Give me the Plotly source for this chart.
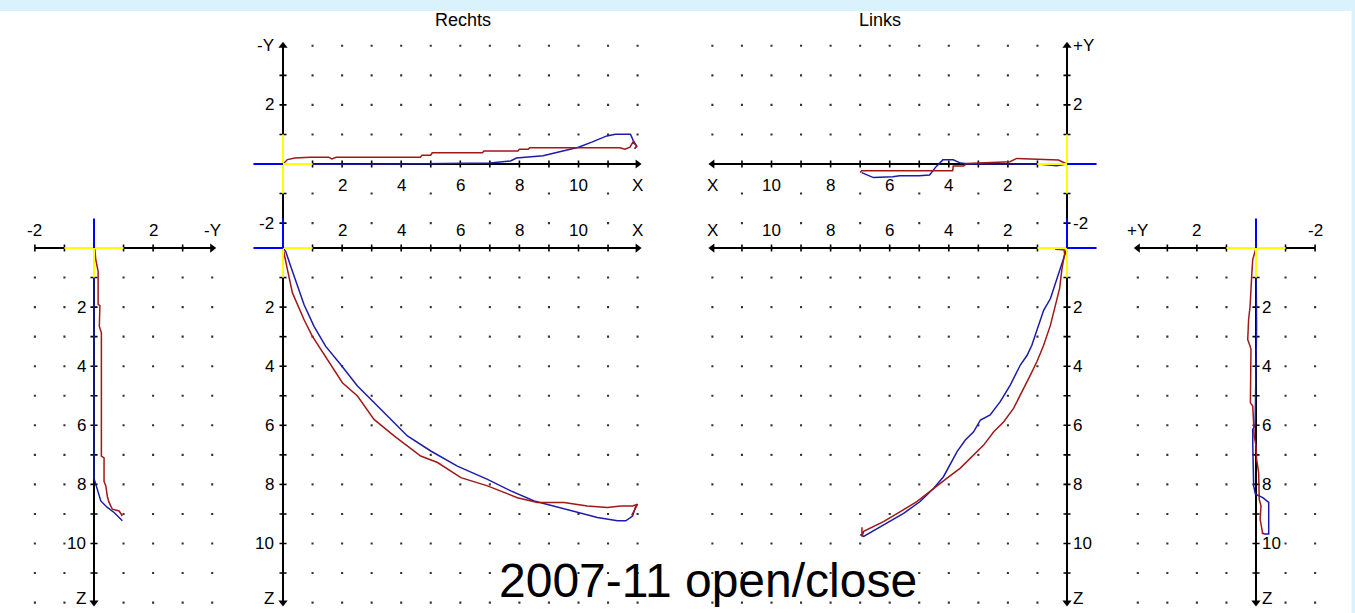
import plotly.graph_objects as go

W, H = 1355, 613
U = 29.55  # pixels per unit

# ---------------- data ----------------
# Rechts, top view: X vs -Y
rt_red_x = [0, 0.15, 0.4, 0.92, 1.55, 1.65, 1.8, 4.65, 4.7, 5.0, 5.05, 6.75, 6.8, 7.95, 8.0, 8.3, 8.35, 11.4, 11.57, 11.74, 11.85, 11.97, 11.9]
rt_red_y = [0, 0.15, 0.2, 0.23, 0.23, 0.17, 0.23, 0.23, 0.3, 0.3, 0.38, 0.38, 0.44, 0.44, 0.5, 0.5, 0.55, 0.55, 0.5, 0.57, 0.75, 0.6, 0.52]
rt_blue_x = [0, 0.9, 4.0, 7.0, 7.7, 7.9, 8.8, 9.7, 10.0, 10.45, 10.96, 11.25, 11.76, 11.85, 11.97, 11.9]
rt_blue_y = [0, -0.01, 0.0, 0.03, 0.1, 0.2, 0.28, 0.48, 0.57, 0.74, 0.95, 1.01, 1.01, 0.8, 0.6, 0.52]

# Rechts, front view: X vs Z
rb_red_x = [0, 0.03, 0.15, 0.32, 0.71, 0.99, 1.5, 2.01, 2.52, 3.08, 3.76, 4.66, 5.23, 6.02, 6.92, 7.93, 8.61, 9.51, 10.3, 10.98, 11.43, 11.83, 12.0, 11.89, 11.8]
rb_red_z = [0, 0.17, 0.73, 1.52, 2.42, 2.98, 3.77, 4.56, 5.01, 5.8, 6.36, 7.04, 7.26, 7.77, 8.05, 8.45, 8.61, 8.61, 8.73, 8.78, 8.73, 8.73, 8.67, 8.9, 9.05]
rb_blue_x = [0, 0.09, 0.26, 0.49, 0.71, 1.05, 1.44, 1.95, 2.52, 2.97, 3.53, 4.21, 5.0, 5.9, 6.92, 7.71, 8.5, 9.18, 9.97, 10.64, 11.32, 11.6, 11.83, 11.94]
rb_blue_z = [0, 0.11, 0.62, 1.30, 1.91, 2.65, 3.32, 3.94, 4.67, 5.12, 5.69, 6.36, 6.87, 7.38, 7.83, 8.22, 8.56, 8.73, 8.95, 9.12, 9.23, 9.23, 9.07, 8.73]

# Rechts, side view: -Y vs Z
ls_red_y = [0, 0.03, 0.06, 0.14, 0.14, 0.2, 0.18, 0.25, 0.25, 0.34, 0.34, 0.4, 0.45, 0.51, 0.62, 0.85, 0.96]
ls_red_z = [0, 0.06, 0.39, 0.79, 1.91, 1.95, 2.65, 2.87, 7.04, 7.1, 7.9, 8.05, 8.4, 8.61, 8.84, 8.9, 9.07]
ls_blue_y = [0, 0, 0, 0.11, 0.23, 0.45, 0.68, 0.96]
ls_blue_z = [0, 1.0, 7.8, 8.16, 8.56, 8.78, 8.95, 9.23]

# Links, top view: X vs +Y
lt_red_x = [0, 0.29, 1.7, 1.93, 3.39, 3.5, 3.85, 3.87, 6.95, 7.0]
lt_red_y = [0, 0.135, 0.19, 0.08, 0.02, -0.07, -0.07, -0.23, -0.23, -0.29]
lt_blue_x = [0, 0.35, 1.0, 3.3, 3.6, 3.85, 4.2, 4.43, 4.65, 5.0, 5.66, 5.9, 6.55, 6.8, 6.95]
lt_blue_y = [0, -0.06, 0, 0, 0.03, 0.14, 0.14, -0.09, -0.37, -0.4, -0.4, -0.43, -0.46, -0.37, -0.29]

# Links, front view: X vs Z
lb_red_x = [0.4, 0.1, 0.08, 0.17, 0.25, 0.4, 0.56, 0.79, 1.02, 1.24, 1.52, 1.81, 2.14, 2.48, 2.82, 3.16, 3.61, 4.06, 4.51, 5.08, 5.64, 6.21, 6.88, 6.94, 6.94]
lb_red_z = [0.04, 0.06, 0.2, 0.7, 1.37, 1.94, 2.61, 3.29, 3.85, 4.3, 4.86, 5.43, 5.88, 6.22, 6.67, 7.0, 7.45, 7.79, 8.13, 8.58, 8.92, 9.26, 9.59, 9.76, 9.45]
lb_blue_x = [0, 0.06, 0.23, 0.4, 0.56, 0.79, 0.96, 1.19, 1.35, 1.58, 1.92, 2.26, 2.6, 2.93, 3.16, 3.44, 3.72, 3.95, 4.18, 4.51, 4.97, 5.53, 6.21, 6.88, 7.0]
lb_blue_z = [0, 0.19, 0.7, 1.26, 1.71, 2.11, 2.61, 3.29, 3.63, 3.96, 4.64, 5.2, 5.65, 5.82, 6.22, 6.5, 6.89, 7.34, 7.74, 8.13, 8.58, 8.98, 9.37, 9.76, 9.7]

# Links, side view: +Y vs Z
rs_red_y = [0, 0.02, 0.11, 0.14, 0.17, 0.2, 0.25, 0.28, 0.2, 0.17, 0.19, 0.11, 0.06, 0.0, -0.02, -0.09, -0.11, -0.17, -0.14, -0.23]
rs_red_z = [0, 0.06, 0.39, 0.84, 1.41, 1.97, 2.42, 3.1, 3.32, 3.43, 5.24, 5.35, 6.36, 6.7, 7.15, 7.6, 8.5, 8.73, 9.18, 9.68]
rs_blue_y = [0, 0, -0.02, 0.03, 0.11, 0.11, 0.08, 0.02, -0.23, -0.43, -0.43, -0.28, -0.2]
rs_blue_z = [0, 1.0, 2.7, 6.0, 6.14, 6.59, 8.05, 8.33, 8.45, 8.61, 9.68, 9.68, 9.63]

# tick labels
side_h_vals = [-2, 2, 4]
ls_h_text = ["-2", "2", "-Y"]
rs_h_text = ["-2", "2", "+Y"]
top_v_vals = [2, -2, 4]
rt_v_text = ["2", "-2", "-Y"]
lt_v_text = ["2", "-2", "+Y"]
x_vals = [2, 4, 6, 8, 10, 12]
x_text = ["2", "4", "6", "8", "10", "X"]
z_vals = [2, 4, 6, 8, 10, 11.85]
z_text = ["2", "4", "6", "8", "10", "Z"]

titles = ["Rechts", "Links"]
caption = "2007-11 open/close"

RED = "#a01818"
BLUE = "#1c1caa"
YEL = "#ffff00"
AXB = "#0000ff"
FONT = "Liberation Sans, Arial, sans-serif"

# ---------------- panel geometry ----------------
panels = [
    dict(name="LS", ox=94, oy=248, xr=(-2.6, 4.6), yr=(-1.3, 12.3), hrev=False, zdown=True),
    dict(name="RT", ox=283, oy=164, xr=(-1.3, 12.5), yr=(-2.6, 4.4), hrev=False, zdown=False),
    dict(name="RB", ox=283, oy=248, xr=(-1.3, 12.5), yr=(-1.3, 12.3), hrev=False, zdown=True),
    dict(name="LT", ox=1067, oy=164, xr=(-1.3, 12.5), yr=(-2.6, 4.4), hrev=True, zdown=False),
    dict(name="LB", ox=1067, oy=248, xr=(-1.3, 12.5), yr=(-1.3, 12.3), hrev=True, zdown=True),
    dict(name="RS", ox=1256, oy=248, xr=(-2.6, 4.6), yr=(-1.3, 12.3), hrev=True, zdown=True),
]

fig = go.Figure()
layout_axes = {}
for i, p in enumerate(panels):
    k = "" if i == 0 else str(i + 1)
    p["xa"], p["ya"] = "x" + k, "y" + k
    a, b = p["xr"]
    if p["hrev"]:
        left, right = p["ox"] - b * U, p["ox"] - a * U
        xrange = [b, a]
    else:
        left, right = p["ox"] + a * U, p["ox"] + b * U
        xrange = [a, b]
    a, b = p["yr"]
    if p["zdown"]:
        top, bot = p["oy"] + a * U, p["oy"] + b * U
        yrange = [b, a]
    else:
        top, bot = p["oy"] - b * U, p["oy"] - a * U
        yrange = [a, b]
    layout_axes["xaxis" + k] = dict(domain=[left / W, right / W], range=xrange, visible=False,
                                    anchor=p["ya"], fixedrange=True)
    layout_axes["yaxis" + k] = dict(domain=[1 - bot / H, 1 - top / H], range=yrange, visible=False,
                                    anchor=p["xa"], fixedrange=True)

P = {p["name"]: p for p in panels}


def seg(p, xs, ys, color, width, mode="lines", **kw):
    fig.add_trace(go.Scatter(x=xs, y=ys, mode=mode, line=dict(color=color, width=width),
                             xaxis=p["xa"], yaxis=p["ya"], hoverinfo="skip", showlegend=False, **kw))


def dots(p, cols, rows, odd_rows=()):
    xs, ys = [], []
    for r in rows:
        for c in cols:
            if r in odd_rows and c % 2 == 0:
                continue
            xs.append(c)
            ys.append(r)
    fig.add_trace(go.Scatter(x=xs, y=ys, mode="markers",
                             marker=dict(size=2.1, color="#333", symbol="square", line=dict(width=0)),
                             xaxis=p["xa"], yaxis=p["ya"], hoverinfo="skip", showlegend=False))


def ticks(p, horiz, vals, L=0.12):
    xs, ys = [], []
    for v in vals:
        if horiz:
            xs += [v, v, None]
            ys += [-L, L, None]
        else:
            xs += [-L, L, None]
            ys += [v, v, None]
    seg(p, xs, ys, "black", 1.6)


def arrow(p, x, y, sym):
    fig.add_trace(go.Scatter(x=[x], y=[y], mode="markers",
                             marker=dict(size=8, color="black", symbol=sym),
                             xaxis=p["xa"], yaxis=p["ya"], hoverinfo="skip", showlegend=False))


def label(p, x, y, t, xanchor="center"):
    fig.add_annotation(x=x, y=y, xref=p["xa"], yref=p["ya"], text=t, showarrow=False,
                       xanchor=xanchor, yanchor="middle", font=dict(family=FONT, size=17, color="black"))


# ---- background grid dots ----
dots(P["LS"], [-2, -1, 1, 2, 3, 4], list(range(1, 13)))
dots(P["RS"], [-2, -1, 1, 2, 3, 4], list(range(1, 13)))
dots(P["RB"], list(range(1, 13)), list(range(1, 13)))
dots(P["LB"], list(range(1, 13)), list(range(1, 13)))
dots(P["RT"], list(range(1, 13)), [4, 3, 2, 1, -1, -2], odd_rows=(-1, -2))
dots(P["LT"], list(range(1, 13)), [4, 3, 2, 1, -1, -2], odd_rows=(-1, -2))

# ---- axes ----
for nm in ["LS", "RS"]:
    p = P[nm]
    seg(p, [-2, 4], [0, 0], "black", 2)
    seg(p, [0, 0], [0, 12], "black", 2)
    ticks(p, True, [-2, -1, 1, 2, 3])
    ticks(p, False, list(range(1, 12)))
    arrow(p, 4, 0, "triangle-left" if p["hrev"] else "triangle-right")
    arrow(p, 0, 12, "triangle-down")
for nm in ["RT", "LT"]:
    p = P[nm]
    seg(p, [0, 12], [0, 0], "black", 2)
    seg(p, [0, 0], [-2, 4], "black", 2)
    ticks(p, True, list(range(1, 12)))
    ticks(p, False, [-2, -1, 1, 2, 3])
    arrow(p, 12, 0, "triangle-left" if p["hrev"] else "triangle-right")
    arrow(p, 0, 4, "triangle-up")
for nm in ["RB", "LB"]:
    p = P[nm]
    seg(p, [0, 12], [0, 0], "black", 2)
    seg(p, [0, 0], [0, 12], "black", 2)
    ticks(p, True, list(range(1, 12)))
    ticks(p, False, list(range(1, 12)))
    arrow(p, 12, 0, "triangle-left" if p["hrev"] else "triangle-right")
    arrow(p, 0, 12, "triangle-down")

# ---- measured paths ----
seg(P["RT"], rt_blue_x, rt_blue_y, BLUE, 1.5)
seg(P["RT"], rt_red_x, rt_red_y, RED, 1.5)
seg(P["RB"], rb_blue_x, rb_blue_z, BLUE, 1.5)
seg(P["RB"], rb_red_x, rb_red_z, RED, 1.5)
seg(P["LS"], ls_blue_y, ls_blue_z, BLUE, 1.5)
seg(P["LS"], ls_red_y, ls_red_z, RED, 1.5)
seg(P["LT"], lt_blue_x, lt_blue_y, BLUE, 1.5)
seg(P["LT"], lt_red_x, lt_red_y, RED, 1.5)
seg(P["LB"], lb_blue_x, lb_blue_z, BLUE, 1.5)
seg(P["LB"], lb_red_x, lb_red_z, RED, 1.5)
seg(P["RS"], rs_blue_y, rs_blue_z, BLUE, 1.5)
seg(P["RS"], rs_red_y, rs_red_z, RED, 1.5)

# ---- origin markers (yellow unit segments, blue extension) ----
for nm in ["LS", "RS"]:
    p = P[nm]
    seg(p, [-1, 1], [0, 0], YEL, 2)
    seg(p, [0, 0], [0, 1], YEL, 2)
    seg(p, [0, 0], [-1, 0], AXB, 2)
for nm in ["RT", "LT"]:
    p = P[nm]
    seg(p, [0, 1], [0, 0], YEL, 2)
    seg(p, [0, 0], [-1, 1], YEL, 2)
    seg(p, [-1, 0], [0, 0], AXB, 2)
for nm in ["RB", "LB"]:
    p = P[nm]
    seg(p, [0, 1], [0, 0], YEL, 2)
    seg(p, [0, 0], [0, 1], YEL, 2)
    seg(p, [-1, 0], [0, 0], AXB, 2)
    seg(p, [0, 0], [-1, 0], AXB, 2)

# ---- labels ----
for v, t in zip(side_h_vals, ls_h_text):
    label(P["LS"], v, -0.6, t)
for v, t in zip(side_h_vals, rs_h_text):
    label(P["RS"], v, -0.6, t)
for v, t in zip(z_vals, z_text):
    label(P["LS"], -0.22, v, t, "right")
    label(P["RB"], -0.22, v, t, "right")
    label(P["LB"], -0.15, v, t, "left")
    label(P["RS"], -0.15, v, t, "left")
for v, t in zip(top_v_vals, rt_v_text):
    label(P["RT"], -0.22, v, t, "right")
for v, t in zip(top_v_vals, lt_v_text):
    label(P["LT"], -0.15, v, t, "left")
for v, t in zip(x_vals, x_text):
    label(P["RT"], v, -0.72, t)
    label(P["LT"], v, -0.72, t)
    label(P["RB"], v, -0.6, t)
    label(P["LB"], v, -0.6, t)

fig.add_annotation(x=463 / W, y=1 - 20 / H, xref="paper", yref="paper", text=titles[0], showarrow=False,
                   xanchor="center", yanchor="middle", font=dict(family=FONT, size=18, color="black"))
fig.add_annotation(x=880 / W, y=1 - 20 / H, xref="paper", yref="paper", text=titles[1], showarrow=False,
                   xanchor="center", yanchor="middle", font=dict(family=FONT, size=18, color="black"))
fig.add_annotation(x=708 / W, y=1 - 580 / H, xref="paper", yref="paper", text=caption, showarrow=False,
                   xanchor="center", yanchor="middle", font=dict(family=FONT, size=48, color="black"))

fig.update_layout(
    width=W, height=H, margin=dict(l=0, r=0, t=0, b=0),
    paper_bgcolor="#d9f2fc", plot_bgcolor="rgba(0,0,0,0)",
    showlegend=False,
    shapes=[dict(type="rect", xref="paper", yref="paper", x0=0, x1=1351.5 / W, y0=0, y1=1 - 11 / H,
                 fillcolor="white", line=dict(width=0), layer="below")],
    **layout_axes,
)

fig.write_html("out.html", config={"displayModeBar": False},
               post_script="document.body.style.margin='0';document.body.style.overflow='hidden';")
